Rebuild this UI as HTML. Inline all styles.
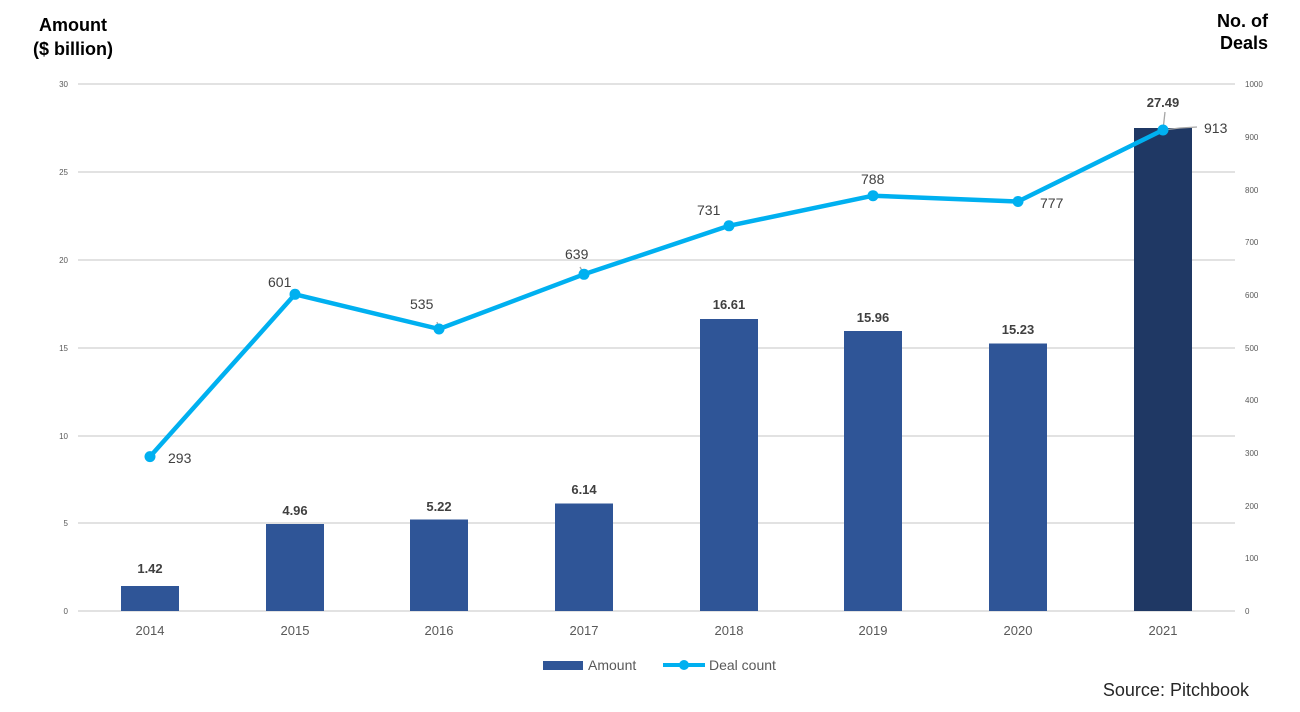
<!DOCTYPE html>
<html><head><style>body{margin:0;background:#fff}svg{display:block}</style></head><body>
<svg width="1300" height="712" xmlns="http://www.w3.org/2000/svg" font-family="Liberation Sans, sans-serif">
<text x="73" y="31" font-size="18" font-weight="bold" text-anchor="middle" fill="#000">Amount</text>
<text x="73" y="55" font-size="18" font-weight="bold" text-anchor="middle" fill="#000">($ billion)</text>
<text x="1268" y="27" font-size="18" font-weight="bold" text-anchor="end" fill="#000">No. of</text>
<text x="1268" y="49" font-size="18" font-weight="bold" text-anchor="end" fill="#000">Deals</text>
<g stroke="#d9d9d9" stroke-width="1.5">
<line x1="78" x2="1235" y1="84" y2="84"/><line x1="78" x2="1235" y1="172" y2="172"/><line x1="78" x2="1235" y1="260" y2="260"/><line x1="78" x2="1235" y1="348" y2="348"/><line x1="78" x2="1235" y1="436" y2="436"/><line x1="78" x2="1235" y1="523" y2="523"/><line x1="78" x2="1235" y1="611" y2="611"/>
</g>
<g font-size="8" fill="#595959" text-anchor="end">
<text x="68" y="87">30</text><text x="68" y="175">25</text><text x="68" y="263">20</text><text x="68" y="351">15</text><text x="68" y="439">10</text><text x="68" y="526">5</text><text x="68" y="614">0</text>
</g>
<g font-size="8" fill="#595959">
<text x="1245" y="87">1000</text><text x="1245" y="140">900</text><text x="1245" y="193">800</text><text x="1245" y="245">700</text><text x="1245" y="298">600</text><text x="1245" y="351">500</text><text x="1245" y="403">400</text><text x="1245" y="456">300</text><text x="1245" y="509">200</text><text x="1245" y="561">100</text><text x="1245" y="614">0</text>
</g>
<g fill="#2f5597">
<rect x="121" y="586" width="58" height="25"/><rect x="266" y="524" width="58" height="87"/><rect x="410" y="519.5" width="58" height="91.5"/><rect x="555" y="503.5" width="58" height="107.5"/><rect x="700" y="319" width="58" height="292"/><rect x="844" y="331" width="58" height="280"/><rect x="989" y="343.5" width="58" height="267.5"/>
<rect x="1134" y="128" width="58" height="483" fill="#1f3864"/>
</g>
<g font-size="13" font-weight="bold" fill="#404040" text-anchor="middle">
<text x="150" y="573">1.42</text><text x="295" y="515">4.96</text><text x="439" y="511">5.22</text><text x="584" y="494">6.14</text><text x="729" y="309">16.61</text><text x="873" y="322">15.96</text><text x="1018" y="334">15.23</text><text x="1163" y="107">27.49</text>
</g>
<g stroke="#a6a6a6" stroke-width="1.3" fill="none"><polyline points="1165,112 1163,130"/><polyline points="1163,130 1180,128 1197,127"/><line x1="580" y1="267" x2="584" y2="274"/><line x1="437" y1="322" x2="439" y2="329"/></g>
<polyline fill="none" stroke="#00b0f0" stroke-width="4.5" stroke-linejoin="round" points="150,456.6 295,294.3 439,329 584,274.3 729,225.8 873,195.7 1018,201.5 1163,130"/>
<g fill="#00b0f0">
<circle cx="150" cy="456.6" r="5.5"/><circle cx="295" cy="294.3" r="5.5"/><circle cx="439" cy="329" r="5.5"/><circle cx="584" cy="274.3" r="5.5"/><circle cx="729" cy="225.8" r="5.5"/><circle cx="873" cy="195.7" r="5.5"/><circle cx="1018" cy="201.5" r="5.5"/><circle cx="1163" cy="130" r="5.5"/>
</g>
<g font-size="14" fill="#404040">
<text x="168" y="463">293</text><text x="268" y="287">601</text><text x="410" y="309">535</text><text x="565" y="259">639</text><text x="697" y="215">731</text><text x="861" y="184">788</text><text x="1040" y="208">777</text><text x="1204" y="133">913</text>
</g>
<g font-size="13" fill="#595959" text-anchor="middle">
<text x="150" y="635">2014</text><text x="295" y="635">2015</text><text x="439" y="635">2016</text><text x="584" y="635">2017</text><text x="729" y="635">2018</text><text x="873" y="635">2019</text><text x="1018" y="635">2020</text><text x="1163" y="635">2021</text>
</g>
<rect x="543" y="661" width="40" height="9" fill="#2f5597"/>
<text x="588" y="670" font-size="14" fill="#595959">Amount</text>
<line x1="663" y1="665" x2="705" y2="665" stroke="#00b0f0" stroke-width="4"/><circle cx="684" cy="665" r="5" fill="#00b0f0"/>
<text x="709" y="670" font-size="14" fill="#595959">Deal count</text>
<text x="1249" y="696" font-size="18" fill="#262626" text-anchor="end">Source: Pitchbook</text>
</svg>
</body></html>
